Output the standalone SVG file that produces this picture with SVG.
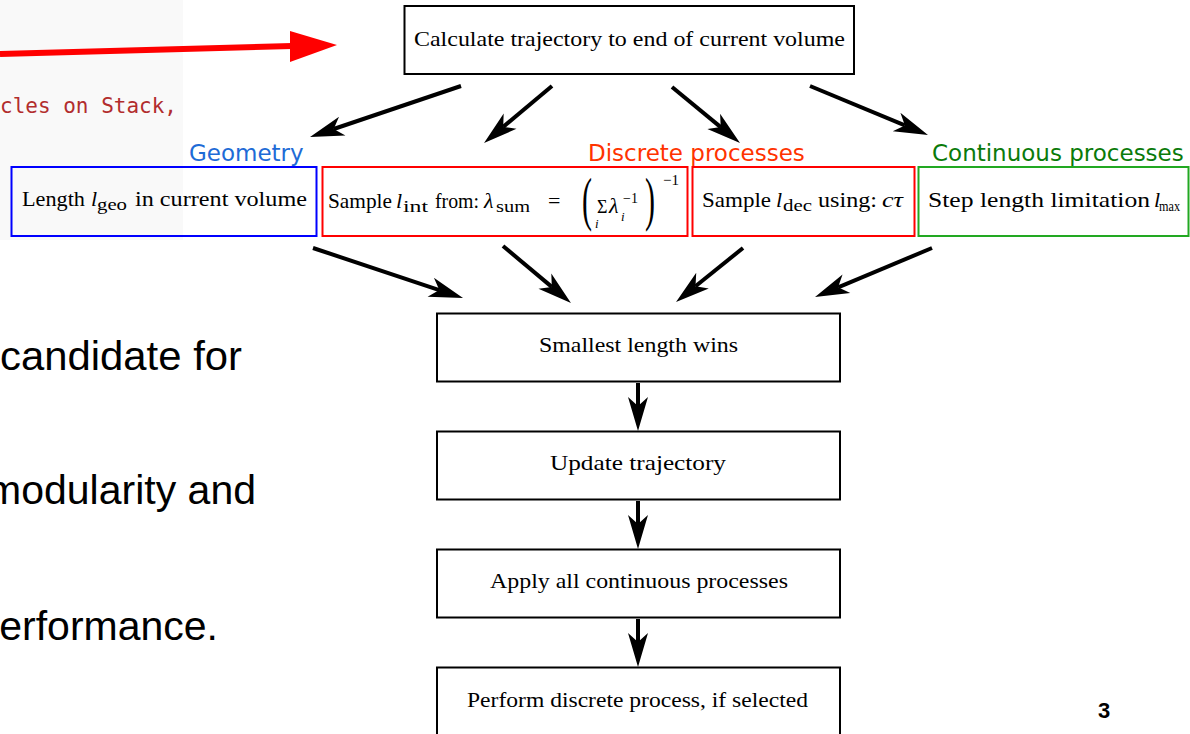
<svg xmlns="http://www.w3.org/2000/svg" width="1190" height="734" viewBox="0 0 1190 734">
<style>
.box{fill:none;stroke:#000;stroke-width:2}
.t{font-family:"Liberation Serif",serif;font-size:22px;fill:#000}
.it{font-style:italic}
.sub{font-size:16px}
.lbl{font-family:"DejaVu Sans",sans-serif;font-size:23px}
.body{font-family:"Liberation Sans",Arial,sans-serif;font-size:41px;fill:#000}
.conn{stroke:#000;stroke-width:4;fill:none;marker-end:url(#ah)}
</style>
<defs>
<marker id="ah" markerUnits="userSpaceOnUse" viewBox="-10 -11 36 22" markerWidth="36" markerHeight="22" refX="0" refY="0" orient="auto" overflow="visible">
<path d="M25,0 L-9,-10 L0,0 L-9,10 Z" fill="#000"/>
</marker>
</defs>
<rect width="1190" height="734" fill="#fff"/>
<rect x="0" y="0" width="183" height="240" fill="#f9f9f9"/>

<g id="background-slide">
<path d="M0,54 L292,46" stroke="#ff0000" stroke-width="6" fill="none"/>
<polygon points="290,31 337,45 290,62" fill="#ff0000"/>
<text x="0" y="113" textLength="177" lengthAdjust="spacingAndGlyphs" style="font-family:'DejaVu Sans Mono','Liberation Mono',monospace;font-size:21px;fill:#b22d2d">cles on Stack,</text>
<text class="body" x="0" y="370" textLength="242" lengthAdjust="spacingAndGlyphs">candidate for</text>
<text class="body" x="256" y="504" text-anchor="end">modularity and</text>
<text class="body" x="218" y="640" text-anchor="end">erformance.</text>
<text x="1104" y="718" text-anchor="middle" style="font-family:'Liberation Sans',Arial,sans-serif;font-size:22px;font-weight:bold;fill:#000">3</text>
</g>

<g id="n-calc">
<rect class="box" x="404.5" y="6" width="449.5" height="68" fill="#fff"/>
<text class="t" x="414" y="46" textLength="431" lengthAdjust="spacingAndGlyphs">Calculate trajectory to end of current volume</text>
</g>

<g id="labels">
<text class="lbl" x="189" y="161" fill="#1e6bd6">Geometry</text>
<text class="lbl" x="588" y="161" fill="#ff3300">Discrete processes</text>
<text class="lbl" x="932" y="161" fill="#0a7a0a">Continuous processes</text>
</g>

<g id="n-geo">
<rect x="11.5" y="167" width="305" height="69" fill="none" stroke="#0000ff" stroke-width="2"/>
<text class="t" x="22" y="206" textLength="63" lengthAdjust="spacingAndGlyphs">Length</text>
<text class="t it" x="91" y="206">l</text>
<text class="t sub" x="97" y="210" textLength="30" lengthAdjust="spacingAndGlyphs">geo</text>
<text class="t" x="135" y="206" textLength="172" lengthAdjust="spacingAndGlyphs">in current volume</text>
</g>

<g id="n-int">
<rect x="322.5" y="167" width="365" height="69" fill="none" stroke="#ff0000" stroke-width="2"/>
<text class="t" x="328" y="208" textLength="64" lengthAdjust="spacingAndGlyphs">Sample</text>
<text class="t it" x="396" y="208">l</text>
<text class="t sub" x="403" y="212" textLength="25" lengthAdjust="spacingAndGlyphs">int</text>
<text class="t" x="435" y="208" textLength="44" lengthAdjust="spacingAndGlyphs">from:</text>
<text class="t it" x="484" y="208">λ</text>
<text class="t sub" x="496" y="212" textLength="34" lengthAdjust="spacingAndGlyphs">sum</text>
<text class="t" x="548" y="208">=</text>
<text class="t" transform="translate(582,219) scale(1,2)" style="font-size:30px">(</text>
<text class="t" x="597" y="213" style="font-size:18px">Σ</text>
<text class="t it" x="595" y="228" style="font-size:13px">i</text>
<text class="t it" x="609" y="213">λ</text>
<text class="t it" x="621" y="221" style="font-size:13px">i</text>
<text class="t" x="623" y="203" style="font-size:14px">−1</text>
<text class="t" transform="translate(645,219) scale(1,2)" style="font-size:30px">)</text>
<text class="t" x="663" y="185" style="font-size:15px">−1</text>
</g>

<g id="n-dec">
<rect x="692.5" y="167" width="222" height="69" fill="none" stroke="#ff0000" stroke-width="2"/>
<text class="t" x="702" y="207" textLength="69" lengthAdjust="spacingAndGlyphs">Sample</text>
<text class="t it" x="776" y="207">l</text>
<text class="t sub" x="783" y="211" textLength="29" lengthAdjust="spacingAndGlyphs">dec</text>
<text class="t" x="818" y="207" textLength="59" lengthAdjust="spacingAndGlyphs">using:</text>
<text class="t it" x="882" y="207" textLength="21" lengthAdjust="spacingAndGlyphs">cτ</text>
</g>

<g id="n-max">
<rect x="918.5" y="167" width="270" height="69" fill="none" stroke="#22a822" stroke-width="2"/>
<text class="t" x="928" y="207" textLength="222" lengthAdjust="spacingAndGlyphs">Step length limitation</text>
<text class="t it" x="1154" y="207">l</text>
<text class="t" x="1159" y="211" textLength="21" lengthAdjust="spacingAndGlyphs" style="font-size:14px">max</text>
</g>

<g id="n-smallest">
<rect class="box" x="437" y="313.5" width="403" height="68" fill="#fff"/>
<text class="t" x="539" y="352" textLength="199" lengthAdjust="spacingAndGlyphs">Smallest length wins</text>
</g>

<g id="n-update">
<rect class="box" x="437" y="431.5" width="403" height="68" fill="#fff"/>
<text class="t" x="550" y="470" textLength="176" lengthAdjust="spacingAndGlyphs">Update trajectory</text>
</g>

<g id="n-apply">
<rect class="box" x="437" y="549.5" width="403" height="68" fill="#fff"/>
<text class="t" x="490" y="588" textLength="298" lengthAdjust="spacingAndGlyphs">Apply all continuous processes</text>
</g>

<g id="n-perform">
<rect class="box" x="437" y="667.5" width="403" height="72" fill="#fff"/>
<text class="t" x="467" y="707" textLength="341" lengthAdjust="spacingAndGlyphs">Perform discrete process, if selected</text>
</g>

<g id="connectors">
<line class="conn" x1="461" y1="86" x2="333.7" y2="129"/>
<line class="conn" x1="552" y1="86" x2="503.2" y2="126.9"/>
<line class="conn" x1="672" y1="87" x2="720.7" y2="127.1"/>
<line class="conn" x1="810" y1="86" x2="904.9" y2="125.4"/>
<line class="conn" x1="313" y1="248" x2="439.3" y2="290.1"/>
<line class="conn" x1="503" y1="246" x2="551.8" y2="286.9"/>
<line class="conn" x1="743" y1="248" x2="695.5" y2="286.3"/>
<line class="conn" x1="932" y1="248" x2="838.1" y2="287.3"/>
<line class="conn" x1="638" y1="383" x2="638" y2="406"/>
<line class="conn" x1="638" y1="501" x2="638" y2="524"/>
<line class="conn" x1="638" y1="619" x2="638" y2="642"/>
</g>
</svg>
